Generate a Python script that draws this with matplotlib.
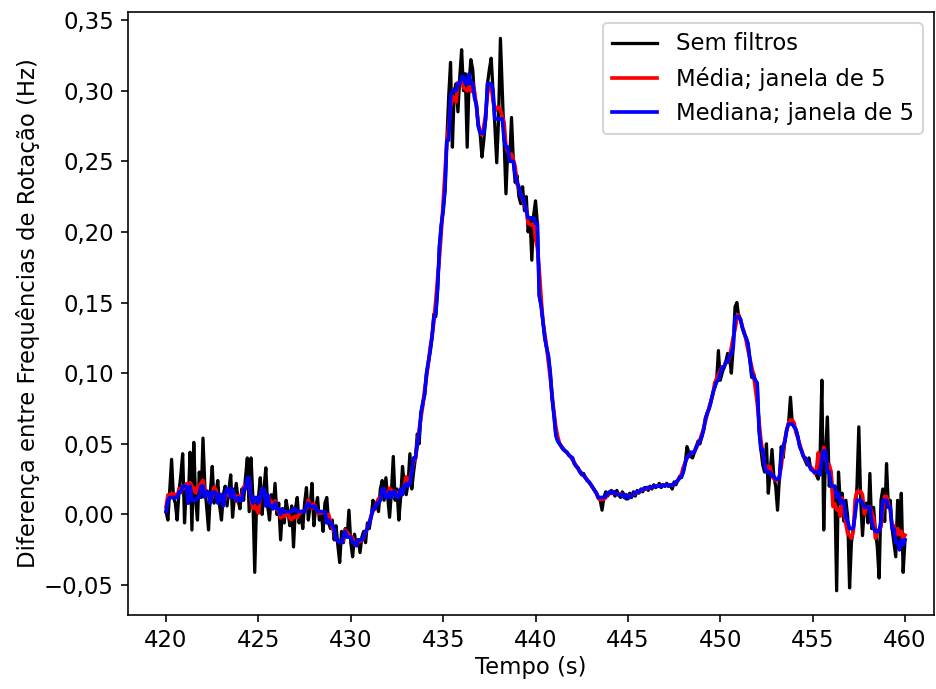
import numpy as np
import pandas as pd
import matplotlib
matplotlib.use("Agg")
import matplotlib.pyplot as plt
from matplotlib.ticker import FuncFormatter

# raw signal, 0.1 s steps from 420 s to 460 s
t_start = 420.0
t_step = 0.1
raw = [
    0.002, -0.004, 0.018, 0.039, 0.012, 0.008, -0.004, 0.016, 0.028, 0.043,   # 420
    -0.006, 0.020, 0.008, 0.044, -0.011, 0.051, 0.010, -0.004, 0.030, 0.012,  # 421
    0.054, 0.020, 0.005, -0.011, 0.016, 0.034, 0.008, 0.015, 0.024, 0.006,    # 422
    -0.004, 0.014, 0.020, 0.006, 0.018, 0.028, -0.002, 0.012, 0.022, 0.010,   # 423
    0.004, 0.018, 0.010, 0.026, 0.040, 0.002, 0.040, 0.012, -0.041, 0.008,    # 424
    0.012, 0.026, 0.000, 0.018, 0.033, 0.006, -0.004, 0.014, 0.004, 0.022,    # 425
    0.000, 0.008, -0.018, 0.004, -0.006, 0.010, 0.002, -0.008, 0.006, -0.023, # 426
    0.004, 0.012, -0.006, 0.002, -0.010, 0.008, 0.019, -0.004, 0.006, 0.022,  # 427
    -0.008, 0.005, 0.012, -0.004, 0.002, -0.012, 0.008, 0.012, -0.006, -0.010,  # 428
    -0.004, -0.018, -0.008, -0.022, -0.034, -0.012, -0.020, -0.010, -0.016, 0.003,  # 429
    -0.020, -0.030, -0.014, -0.022, -0.018, -0.027, -0.016, -0.012, -0.020, -0.006,  # 430
    -0.010, -0.002, 0.010, 0.004, 0.008, 0.002, 0.018, 0.024, 0.010, 0.026,   # 431
    0.012, -0.002, 0.016, 0.041, 0.010, 0.018, -0.004, 0.012, 0.034, 0.020,   # 432
    0.014, 0.022, 0.043, 0.018, 0.030, 0.040, 0.057, 0.050, 0.072, 0.079,     # 433
    0.085, 0.100, 0.108, 0.116, 0.126, 0.142, 0.140, 0.160, 0.190, 0.205,     # 434
    0.215, 0.230, 0.265, 0.296, 0.320, 0.260, 0.300, 0.305, 0.285, 0.310,     # 435
    0.329, 0.300, 0.312, 0.260, 0.305, 0.322, 0.315, 0.295, 0.290, 0.275,     # 436
    0.270, 0.253, 0.265, 0.280, 0.305, 0.315, 0.323, 0.300, 0.275, 0.249,     # 437
    0.280, 0.337, 0.300, 0.265, 0.227, 0.260, 0.250, 0.281, 0.250, 0.235,     # 438
    0.240, 0.225, 0.220, 0.232, 0.215, 0.225, 0.200, 0.210, 0.180, 0.212,     # 439
    0.222, 0.206, 0.155, 0.148, 0.137, 0.125, 0.118, 0.112, 0.100, 0.082,     # 440
    0.070, 0.056, 0.052, 0.050, 0.048, 0.046, 0.045, 0.044, 0.042, 0.041,     # 441
    0.040, 0.036, 0.034, 0.033, 0.030, 0.028, 0.029, 0.026, 0.024, 0.023,     # 442
    0.021, 0.019, 0.017, 0.015, 0.012, 0.010, 0.003, 0.012, 0.016, 0.013,     # 443
    0.015, 0.017, 0.016, 0.013, 0.017, 0.014, 0.012, 0.016, 0.014, 0.011,     # 444
    0.011, 0.015, 0.012, 0.016, 0.013, 0.017, 0.015, 0.018, 0.016, 0.019,     # 445
    0.019, 0.017, 0.020, 0.018, 0.021, 0.019, 0.020, 0.022, 0.019, 0.021,     # 446
    0.020, 0.022, 0.020, 0.021, 0.018, 0.023, 0.021, 0.024, 0.027, 0.026,     # 447
    0.030, 0.036, 0.048, 0.044, 0.041, 0.040, 0.044, 0.048, 0.052, 0.050,     # 448
    0.055, 0.060, 0.068, 0.072, 0.075, 0.080, 0.086, 0.090, 0.094, 0.116,     # 449
    0.095, 0.100, 0.104, 0.108, 0.114, 0.112, 0.100, 0.118, 0.147, 0.150,     # 450
    0.140, 0.138, 0.132, 0.128, 0.125, 0.121, 0.110, 0.097, 0.100, 0.095,     # 451
    0.093, 0.060, 0.046, 0.035, 0.030, 0.050, 0.015, 0.030, 0.046, 0.027,     # 452
    0.020, 0.003, 0.025, 0.048, 0.040, 0.052, 0.060, 0.065, 0.083, 0.064,     # 453
    0.062, 0.060, 0.055, 0.048, 0.045, 0.041, 0.038, 0.035, 0.040, 0.032,     # 454
    0.031, 0.030, 0.028, 0.025, 0.040, 0.095, -0.011, 0.045, 0.069, 0.020,    # 455
    0.030, 0.012, 0.020, -0.054, 0.030, 0.008, 0.015, -0.005, 0.010, -0.002,  # 456
    -0.052, -0.020, -0.010, 0.000, 0.020, 0.062, 0.010, -0.015, 0.005, 0.008, # 457
    -0.006, 0.029, -0.010, 0.005, -0.012, -0.023, -0.045, 0.010, 0.018, -0.005,  # 458
    0.036, 0.005, 0.010, -0.010, -0.020, -0.030, 0.010, -0.025, 0.015, -0.041,   # 459
    -0.018,                                                                    # 460
]
window = 5

tempo = t_start + t_step * np.arange(len(raw))
serie = pd.Series(raw)
media = serie.rolling(window, center=True, min_periods=1).mean()
mediana = serie.rolling(window, center=True, min_periods=1).median()

plt.rcParams["font.size"] = 11.2

fig = plt.figure(figsize=(6.4, 689 / 146.25), dpi=146.25)
ax = fig.add_axes([128 / 936, 1 - 615 / 689, (934 - 128) / 936, (615 - 12) / 689])

ax.plot(tempo, raw, color="k", lw=1.6, label="Sem filtros")
ax.plot(tempo, media, color="r", lw=1.8, label="Média; janela de 5")
ax.plot(tempo, mediana, color="b", lw=1.8, label="Mediana; janela de 5")

ax.set_xlim(417.94, 461.57)
ax.set_ylim(-0.0712, 0.3557)
ax.set_xticks(np.arange(420, 461, 5))
ax.set_yticks(np.arange(-0.05, 0.351, 0.05))
ax.yaxis.set_major_formatter(
    FuncFormatter(lambda v, pos: f"{v:.2f}".replace(".", ",").replace("-", "\u2212")))

ax.set_xlabel("Tempo (s)", labelpad=2)
ax.set_ylabel("Diferença entre Frequências de Rotação (Hz)", labelpad=2)
ax.legend(loc="upper right")

fig.savefig("out.png", dpi=146.25)
